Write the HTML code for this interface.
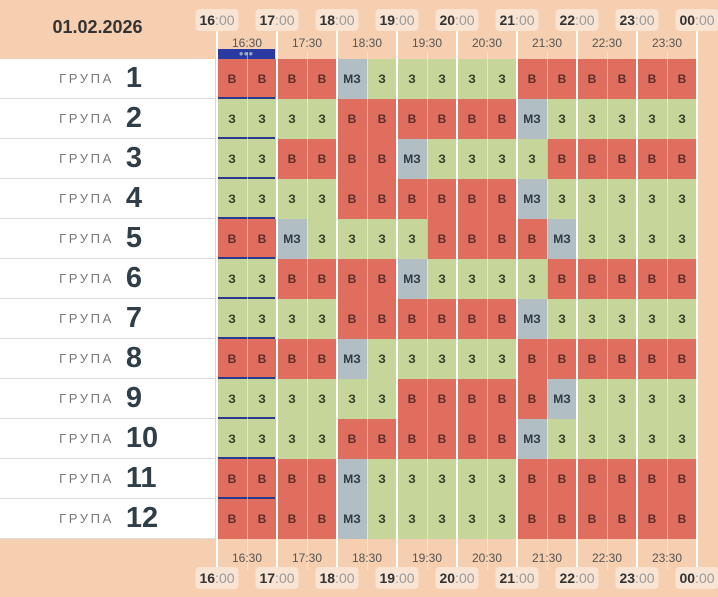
<!DOCTYPE html><html><head><meta charset="utf-8"><style>
body{margin:0;width:718px;height:597px;background:#f5cfaf;font-family:"Liberation Sans","DejaVu Sans",sans-serif;position:relative;overflow:hidden}
.a{position:absolute}
.date{left:0;width:195px;top:17px;text-align:center;font-weight:bold;font-size:18px;color:#333}
.lab{left:0;width:215px;height:39px;background:#fff;border-bottom:1px solid #ddd;display:flex;align-items:center;justify-content:center}
.lab .g{font-size:13px;letter-spacing:2.6px;color:#777;margin-right:12px}
.lab .n{font-size:29px;font-weight:bold;color:#2f3e48;width:30px}
.row{left:217px;width:480px;height:40px;display:flex}
.row span{width:30px;height:40px;line-height:40px;text-align:center;font-size:12px;font-weight:bold}
.B{background:#df6e5e;color:#5a2e28}.Z{background:#c6d69b;color:#2f3a22}.M{background:#b1bfc4;color:#2e3a44}
.hl{width:2px;background:#fff;top:10px;height:565px}
.hh{width:1px;background:rgba(255,255,255,.45);top:52px;height:518px}
.ht{top:9px;height:22px;line-height:22px;padding:0 4px;background:#f9e4d4;border-radius:4px;font-size:14px;color:#999;transform:translateX(-50%)}
.ht b{color:#333}
.hb{top:567px}
.hm{font-size:12px;color:#555;transform:translateX(-50%)}
.bl{left:217px;width:58px;height:2px;background:#2a3a8a}
</style></head><body>
<div class="a date">01.02.2026</div>
<div class="a" style="left:217px;top:49px;width:58px;height:10px;background:#2a3aa0;color:#9ab;font-size:8px;text-align:center;line-height:10px">●●●</div>

<div class="a lab" style="top:59px"><span class="g">ГРУПА</span><span class="n">1</span></div>
<div class="a lab" style="top:99px"><span class="g">ГРУПА</span><span class="n">2</span></div>
<div class="a lab" style="top:139px"><span class="g">ГРУПА</span><span class="n">3</span></div>
<div class="a lab" style="top:179px"><span class="g">ГРУПА</span><span class="n">4</span></div>
<div class="a lab" style="top:219px"><span class="g">ГРУПА</span><span class="n">5</span></div>
<div class="a lab" style="top:259px"><span class="g">ГРУПА</span><span class="n">6</span></div>
<div class="a lab" style="top:299px"><span class="g">ГРУПА</span><span class="n">7</span></div>
<div class="a lab" style="top:339px"><span class="g">ГРУПА</span><span class="n">8</span></div>
<div class="a lab" style="top:379px"><span class="g">ГРУПА</span><span class="n">9</span></div>
<div class="a lab" style="top:419px"><span class="g">ГРУПА</span><span class="n">10</span></div>
<div class="a lab" style="top:459px"><span class="g">ГРУПА</span><span class="n">11</span></div>
<div class="a lab" style="top:499px"><span class="g">ГРУПА</span><span class="n">12</span></div>

<div class="a row" style="top:59px"><span class="B">В</span><span class="B">В</span><span class="B">В</span><span class="B">В</span><span class="M">МЗ</span><span class="Z">З</span><span class="Z">З</span><span class="Z">З</span><span class="Z">З</span><span class="Z">З</span><span class="B">В</span><span class="B">В</span><span class="B">В</span><span class="B">В</span><span class="B">В</span><span class="B">В</span></div>
<div class="a row" style="top:99px"><span class="Z">З</span><span class="Z">З</span><span class="Z">З</span><span class="Z">З</span><span class="B">В</span><span class="B">В</span><span class="B">В</span><span class="B">В</span><span class="B">В</span><span class="B">В</span><span class="M">МЗ</span><span class="Z">З</span><span class="Z">З</span><span class="Z">З</span><span class="Z">З</span><span class="Z">З</span></div>
<div class="a row" style="top:139px"><span class="Z">З</span><span class="Z">З</span><span class="B">В</span><span class="B">В</span><span class="B">В</span><span class="B">В</span><span class="M">МЗ</span><span class="Z">З</span><span class="Z">З</span><span class="Z">З</span><span class="Z">З</span><span class="B">В</span><span class="B">В</span><span class="B">В</span><span class="B">В</span><span class="B">В</span></div>
<div class="a row" style="top:179px"><span class="Z">З</span><span class="Z">З</span><span class="Z">З</span><span class="Z">З</span><span class="B">В</span><span class="B">В</span><span class="B">В</span><span class="B">В</span><span class="B">В</span><span class="B">В</span><span class="M">МЗ</span><span class="Z">З</span><span class="Z">З</span><span class="Z">З</span><span class="Z">З</span><span class="Z">З</span></div>
<div class="a row" style="top:219px"><span class="B">В</span><span class="B">В</span><span class="M">МЗ</span><span class="Z">З</span><span class="Z">З</span><span class="Z">З</span><span class="Z">З</span><span class="B">В</span><span class="B">В</span><span class="B">В</span><span class="B">В</span><span class="M">МЗ</span><span class="Z">З</span><span class="Z">З</span><span class="Z">З</span><span class="Z">З</span></div>
<div class="a row" style="top:259px"><span class="Z">З</span><span class="Z">З</span><span class="B">В</span><span class="B">В</span><span class="B">В</span><span class="B">В</span><span class="M">МЗ</span><span class="Z">З</span><span class="Z">З</span><span class="Z">З</span><span class="Z">З</span><span class="B">В</span><span class="B">В</span><span class="B">В</span><span class="B">В</span><span class="B">В</span></div>
<div class="a row" style="top:299px"><span class="Z">З</span><span class="Z">З</span><span class="Z">З</span><span class="Z">З</span><span class="B">В</span><span class="B">В</span><span class="B">В</span><span class="B">В</span><span class="B">В</span><span class="B">В</span><span class="M">МЗ</span><span class="Z">З</span><span class="Z">З</span><span class="Z">З</span><span class="Z">З</span><span class="Z">З</span></div>
<div class="a row" style="top:339px"><span class="B">В</span><span class="B">В</span><span class="B">В</span><span class="B">В</span><span class="M">МЗ</span><span class="Z">З</span><span class="Z">З</span><span class="Z">З</span><span class="Z">З</span><span class="Z">З</span><span class="B">В</span><span class="B">В</span><span class="B">В</span><span class="B">В</span><span class="B">В</span><span class="B">В</span></div>
<div class="a row" style="top:379px"><span class="Z">З</span><span class="Z">З</span><span class="Z">З</span><span class="Z">З</span><span class="Z">З</span><span class="Z">З</span><span class="B">В</span><span class="B">В</span><span class="B">В</span><span class="B">В</span><span class="B">В</span><span class="M">МЗ</span><span class="Z">З</span><span class="Z">З</span><span class="Z">З</span><span class="Z">З</span></div>
<div class="a row" style="top:419px"><span class="Z">З</span><span class="Z">З</span><span class="Z">З</span><span class="Z">З</span><span class="B">В</span><span class="B">В</span><span class="B">В</span><span class="B">В</span><span class="B">В</span><span class="B">В</span><span class="M">МЗ</span><span class="Z">З</span><span class="Z">З</span><span class="Z">З</span><span class="Z">З</span><span class="Z">З</span></div>
<div class="a row" style="top:459px"><span class="B">В</span><span class="B">В</span><span class="B">В</span><span class="B">В</span><span class="M">МЗ</span><span class="Z">З</span><span class="Z">З</span><span class="Z">З</span><span class="Z">З</span><span class="Z">З</span><span class="B">В</span><span class="B">В</span><span class="B">В</span><span class="B">В</span><span class="B">В</span><span class="B">В</span></div>
<div class="a row" style="top:499px"><span class="B">В</span><span class="B">В</span><span class="B">В</span><span class="B">В</span><span class="M">МЗ</span><span class="Z">З</span><span class="Z">З</span><span class="Z">З</span><span class="Z">З</span><span class="Z">З</span><span class="B">В</span><span class="B">В</span><span class="B">В</span><span class="B">В</span><span class="B">В</span><span class="B">В</span></div>

<div class="a bl" style="top:97px"></div><div class="a bl" style="top:137px"></div><div class="a bl" style="top:177px"></div><div class="a bl" style="top:217px"></div><div class="a bl" style="top:257px"></div><div class="a bl" style="top:297px"></div><div class="a bl" style="top:337px"></div><div class="a bl" style="top:377px"></div><div class="a bl" style="top:417px"></div><div class="a bl" style="top:457px"></div><div class="a bl" style="top:497px"></div>

<div class="a hh" style="left:247px"></div><div class="a hh" style="left:307px"></div><div class="a hh" style="left:367px"></div><div class="a hh" style="left:427px"></div><div class="a hh" style="left:487px"></div><div class="a hh" style="left:547px"></div><div class="a hh" style="left:607px"></div><div class="a hh" style="left:667px"></div>
<div class="a hl" style="left:216px"></div><div class="a hl" style="left:276px"></div><div class="a hl" style="left:336px"></div><div class="a hl" style="left:396px"></div><div class="a hl" style="left:456px"></div><div class="a hl" style="left:516px"></div><div class="a hl" style="left:576px"></div><div class="a hl" style="left:636px"></div><div class="a hl" style="left:696px"></div>

<div class="a ht" style="left:217px"><b>16</b>:00</div><div class="a ht" style="left:277px"><b>17</b>:00</div><div class="a ht" style="left:337px"><b>18</b>:00</div><div class="a ht" style="left:397px"><b>19</b>:00</div><div class="a ht" style="left:457px"><b>20</b>:00</div><div class="a ht" style="left:517px"><b>21</b>:00</div><div class="a ht" style="left:577px"><b>22</b>:00</div><div class="a ht" style="left:637px"><b>23</b>:00</div><div class="a ht" style="left:697px"><b>00</b>:00</div>
<div class="a ht hb" style="left:217px"><b>16</b>:00</div><div class="a ht hb" style="left:277px"><b>17</b>:00</div><div class="a ht hb" style="left:337px"><b>18</b>:00</div><div class="a ht hb" style="left:397px"><b>19</b>:00</div><div class="a ht hb" style="left:457px"><b>20</b>:00</div><div class="a ht hb" style="left:517px"><b>21</b>:00</div><div class="a ht hb" style="left:577px"><b>22</b>:00</div><div class="a ht hb" style="left:637px"><b>23</b>:00</div><div class="a ht hb" style="left:697px"><b>00</b>:00</div>

<div class="a hm" style="left:247px;top:36px">16:30</div><div class="a hm" style="left:307px;top:36px">17:30</div><div class="a hm" style="left:367px;top:36px">18:30</div><div class="a hm" style="left:427px;top:36px">19:30</div><div class="a hm" style="left:487px;top:36px">20:30</div><div class="a hm" style="left:547px;top:36px">21:30</div><div class="a hm" style="left:607px;top:36px">22:30</div><div class="a hm" style="left:667px;top:36px">23:30</div>
<div class="a hm" style="left:247px;top:551px">16:30</div><div class="a hm" style="left:307px;top:551px">17:30</div><div class="a hm" style="left:367px;top:551px">18:30</div><div class="a hm" style="left:427px;top:551px">19:30</div><div class="a hm" style="left:487px;top:551px">20:30</div><div class="a hm" style="left:547px;top:551px">21:30</div><div class="a hm" style="left:607px;top:551px">22:30</div><div class="a hm" style="left:667px;top:551px">23:30</div>
</body></html>
